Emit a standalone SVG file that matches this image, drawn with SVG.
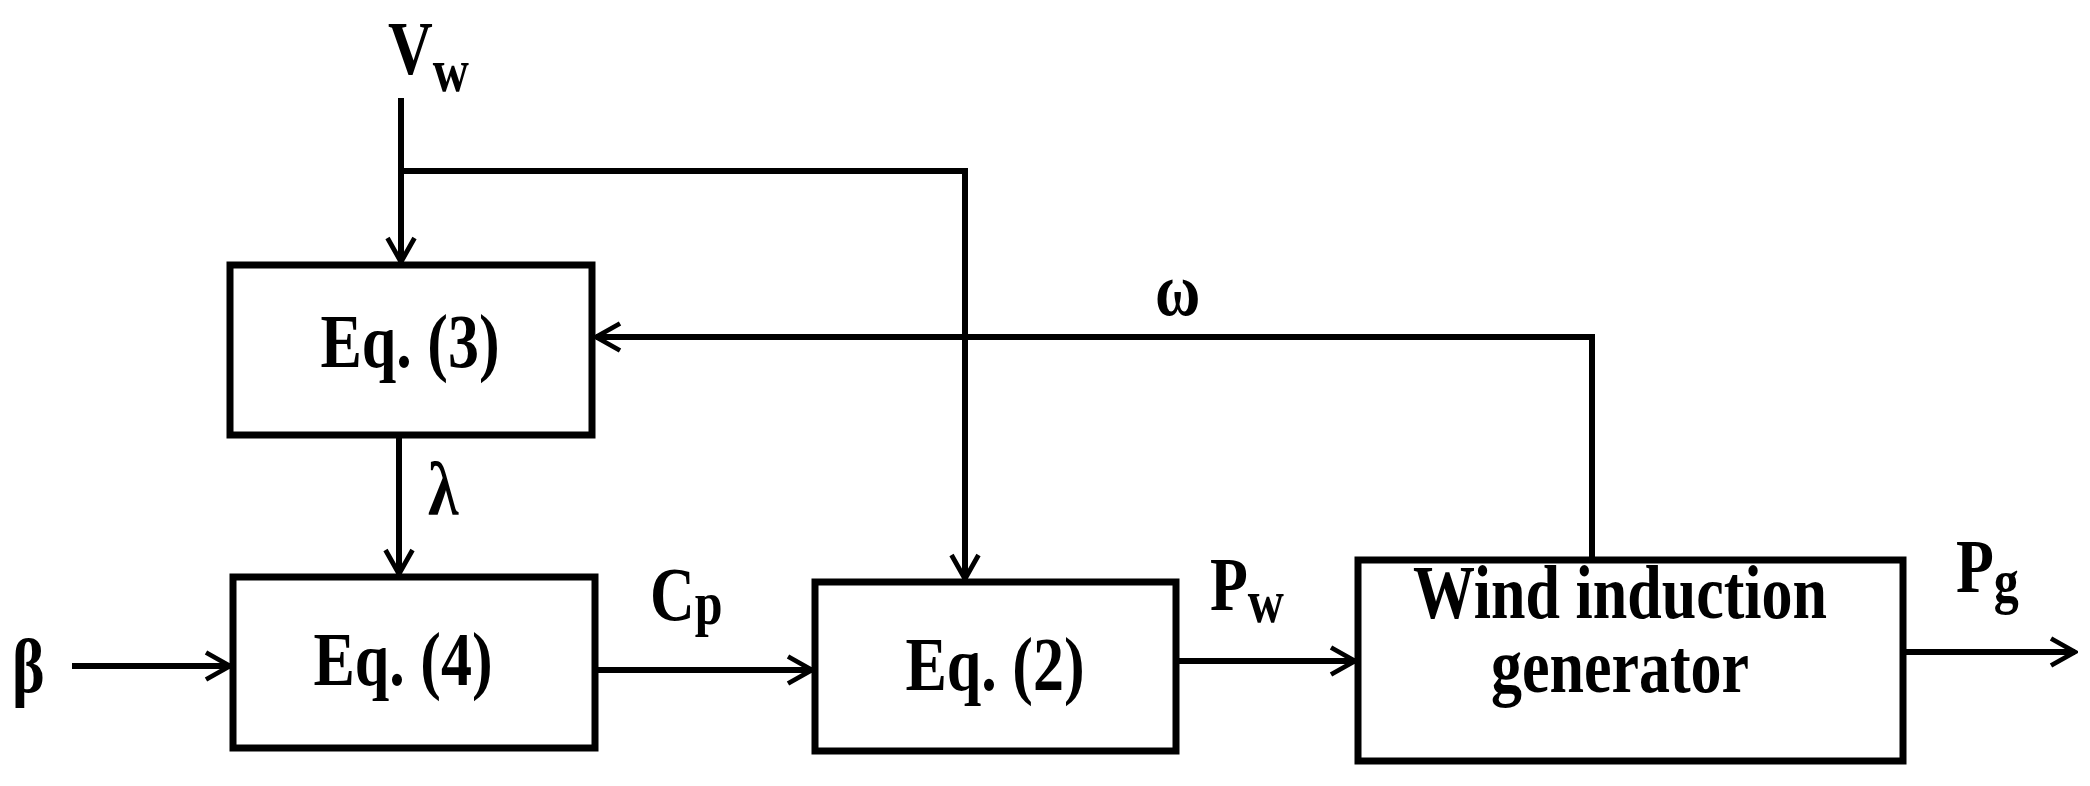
<svg xmlns="http://www.w3.org/2000/svg" width="2090" height="786" viewBox="0 0 2090 786">
<style>
.b{fill:#fff;stroke:#000;stroke-width:7}
.c{fill:none;stroke:#000;stroke-width:6}
.t{font-family:"Liberation Serif",serif;font-weight:bold;font-size:62px;fill:#000}
.s{font-size:50px}
</style>
<defs>
<marker id="a" viewBox="0 0 10 10" refX="9" refY="5" markerWidth="5" markerHeight="6" markerUnits="strokeWidth" orient="auto"><path d="M1,0.5 L9,5 L1,9.5" fill="none" stroke="#000" stroke-width="1.6"/></marker>
</defs>
<rect width="2090" height="786" fill="#fff"/>
<g id="connectors">
<path class="c" d="M401,98 V262" marker-end="url(#a)"/>
<path class="c" d="M401,171 H965 V579" marker-end="url(#a)"/>
<path class="c" d="M1592,560 V337 H596" marker-end="url(#a)"/>
<path class="c" d="M399,435 V574" marker-end="url(#a)"/>
<path class="c" d="M72,666 H230" marker-end="url(#a)"/>
<path class="c" d="M595,670 H812" marker-end="url(#a)"/>
<path class="c" d="M1176,661 H1355" marker-end="url(#a)"/>
<path class="c" d="M1903,652 H2075" marker-end="url(#a)"/>
</g>
<g id="eq3"><rect class="b" x="230" y="265" width="362" height="170"/><text class="t" transform="translate(410,367) scale(1,1.22)" text-anchor="middle">Eq. (3)</text></g>
<g id="eq4"><rect class="b" x="233" y="577" width="362" height="171"/><text class="t" transform="translate(403,685) scale(1,1.22)" text-anchor="middle">Eq. (4)</text></g>
<g id="eq2"><rect class="b" x="815" y="582" width="361" height="169"/><text class="t" transform="translate(995,690) scale(1,1.22)" text-anchor="middle">Eq. (2)</text></g>
<g id="wig"><rect class="b" x="1358" y="560" width="545" height="201"/><text class="t" transform="translate(1620,618) scale(1,1.22)" text-anchor="middle">Wind induction</text><text class="t" transform="translate(1620,692) scale(1,1.22)" text-anchor="middle">generator</text></g>
<g id="labels">
<text class="t" transform="translate(388,74) scale(1,1.22)">V<tspan class="s" dy="14">w</tspan></text>
<text class="t" transform="translate(428,515) scale(1,1.22)" font-size="46">λ</text>
<text class="t" transform="translate(1155,315) scale(1,1.22)" font-size="46">ω</text>
<text class="t" transform="translate(12,692) scale(1,1.22)" font-size="46">β</text>
<text class="t" transform="translate(650,620) scale(1,1.22)">C<tspan class="s" dy="3">p</tspan></text>
<text class="t" transform="translate(1210,610) scale(1,1.22)">P<tspan class="s" dy="10">w</tspan></text>
<text class="t" transform="translate(1956,592) scale(1,1.22)">P<tspan class="s" dy="8">g</tspan></text>
</g>
</svg>
